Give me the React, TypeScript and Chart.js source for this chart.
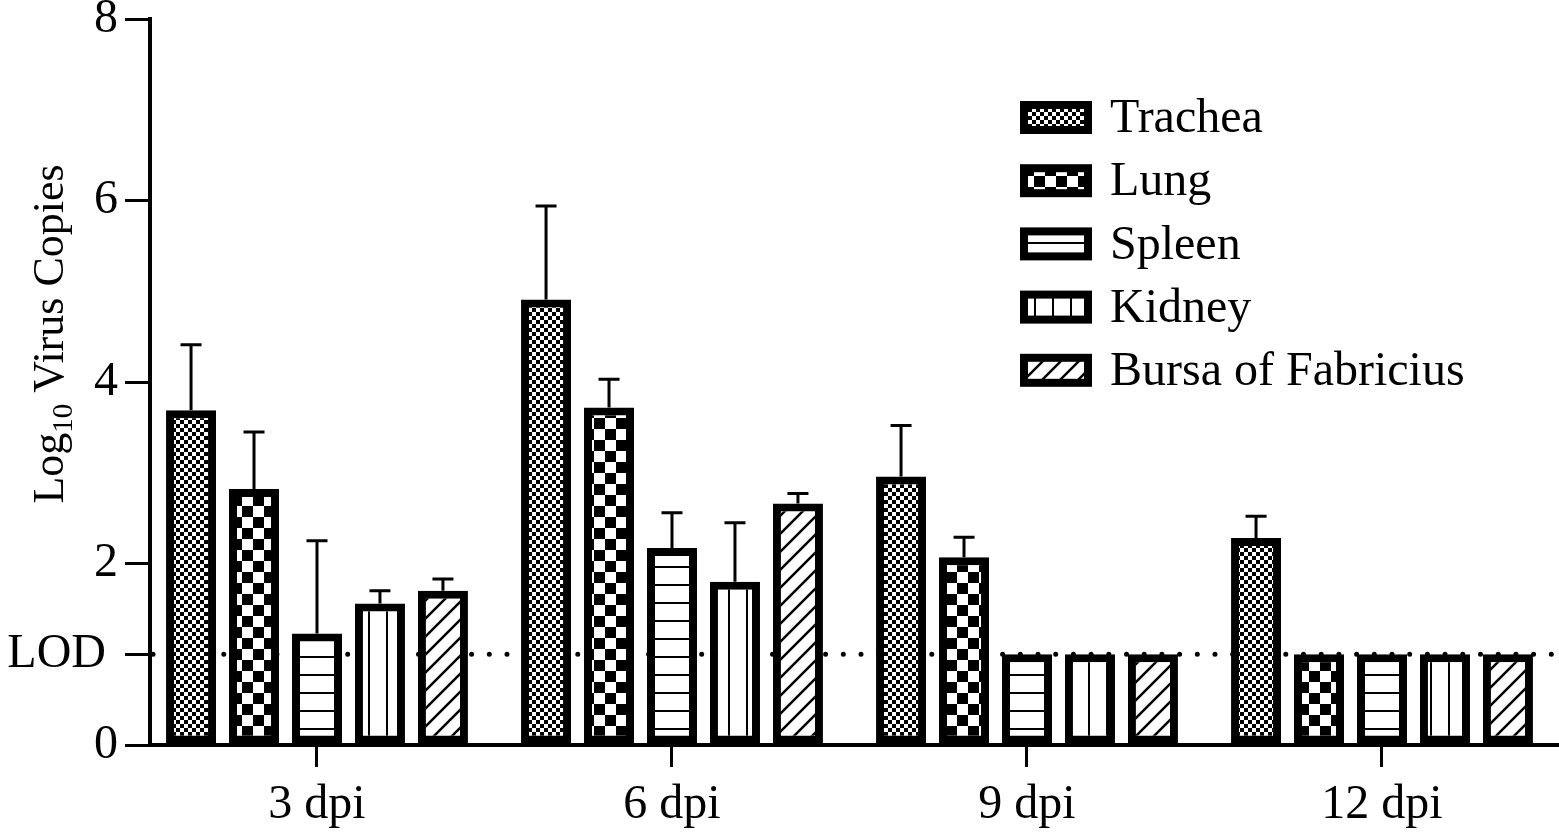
import React, { useEffect, useRef } from "react";
import { Chart, registerables } from "chart.js";

Chart.register(...registerables);

const FONT = '"Liberation Serif", "Times New Roman", serif';

// data (log10 copies, mean and upper error)
const days = ["3 dpi", "6 dpi", "9 dpi", "12 dpi"];
const tissues = ["Trachea", "Lung", "Spleen", "Kidney", "Bursa of Fabricius"];

const trachea = [3.69, 4.91, 2.96, 2.28];
const tracheaErr = [0.72, 1.03, 0.56, 0.24];
const lung = [2.82, 3.72, 2.07, 1];
const lungErr = [0.63, 0.31, 0.22, 0];
const spleen = [1.23, 2.17, 1, 1];
const spleenErr = [1.02, 0.39, 0, 0];
const kidney = [1.56, 1.8, 1, 1];
const kidneyErr = [0.14, 0.65, 0, 0];
const bursa = [1.7, 2.66, 1, 1];
const bursaErr = [0.13, 0.11, 0, 0];

const yTicks = [0, 1, 2, 4, 6, 8];
const lod = 1;

const means = [trachea, lung, spleen, kidney, bursa];
const errors = [tracheaErr, lungErr, spleenErr, kidneyErr, bursaErr];
const patternKinds = ["fineCheck", "check", "hlines", "vlines", "diag"];

function makePattern(ctx: CanvasRenderingContext2D, kind: string) {
  const c = document.createElement("canvas");
  const g = c.getContext("2d")!;
  let s = 18;
  if (kind === "fineCheck") s = 8;
  if (kind === "check") s = 22;
  c.width = s;
  c.height = s;
  g.fillStyle = "#fff";
  g.fillRect(0, 0, s, s);
  g.fillStyle = "#000";
  g.strokeStyle = "#000";
  if (kind === "fineCheck" || kind === "check") {
    const h = s / 2;
    g.fillRect(0, 0, h, h);
    g.fillRect(h, h, h, h);
  } else if (kind === "hlines") {
    g.fillRect(0, 8, s, 2);
  } else if (kind === "vlines") {
    g.fillRect(8, 0, 2, s);
  } else if (kind === "diag") {
    g.lineWidth = 2.5;
    g.beginPath();
    g.moveTo(-2, s + 2);
    g.lineTo(s + 2, -2);
    g.moveTo(-2, 2);
    g.lineTo(2, -2);
    g.moveTo(s - 2, s + 2);
    g.lineTo(s + 2, s - 2);
    g.stroke();
  }
  return ctx.createPattern(c, "repeat");
}

// dotted limit-of-detection line, behind the bars
const lodLine = {
  id: "lodLine",
  beforeDatasetsDraw(chart) {
    const { ctx, chartArea } = chart;
    const y = chart.scales.y.getPixelForValue(lod);
    ctx.save();
    ctx.strokeStyle = "#000";
    ctx.lineWidth = 5;
    ctx.lineCap = "round";
    ctx.setLineDash([0, 17.7]);
    ctx.beginPath();
    ctx.moveTo(chartArea.left + 3, y);
    ctx.lineTo(chartArea.right, y);
    ctx.stroke();
    ctx.restore();
  },
};

// upper error bars only
const errorBars = {
  id: "errorBars",
  afterDatasetsDraw(chart) {
    const { ctx } = chart;
    const yScale = chart.scales.y;
    ctx.save();
    ctx.strokeStyle = "#000";
    ctx.lineWidth = 3;
    chart.data.datasets.forEach((ds, i) => {
      chart.getDatasetMeta(i).data.forEach((bar, j) => {
        const e = errors[i][j];
        if (!e) return;
        const top = yScale.getPixelForValue(ds.data[j] + e);
        ctx.beginPath();
        ctx.moveTo(bar.x, bar.y);
        ctx.lineTo(bar.x, top);
        ctx.moveTo(bar.x - 10.5, top);
        ctx.lineTo(bar.x + 10.5, top);
        ctx.stroke();
      });
    });
    ctx.restore();
  },
};

// legend boxes with the fill patterns, plus the rotated y title with subscript
const decorations = {
  id: "decorations",
  afterDraw(chart) {
    const { ctx } = chart;
    ctx.save();
    chart.data.datasets.forEach((ds, i) => {
      const cy = 117.5 + i * 63.2;
      const bx = 1020;
      const by = cy - 16.5;
      ctx.fillStyle = "#000";
      ctx.fillRect(bx, by, 72, 33);
      ctx.fillStyle = ds.backgroundColor;
      ctx.fillRect(bx + 8, by + 8, 56, 17);
      ctx.fillStyle = "#000";
      ctx.font = `48px ${FONT}`;
      ctx.textAlign = "left";
      ctx.textBaseline = "middle";
      ctx.fillText(ds.label, 1110, cy + 2);
    });

    ctx.translate(63, 334);
    ctx.rotate(-Math.PI / 2);
    ctx.textBaseline = "alphabetic";
    ctx.textAlign = "left";
    const big = `44px ${FONT}`;
    const small = `29px ${FONT}`;
    ctx.font = big;
    const w1 = ctx.measureText("Log").width;
    const w3 = ctx.measureText(" Virus Copies").width;
    ctx.font = small;
    const w2 = ctx.measureText("10").width;
    let x = -(w1 + w2 + w3) / 2;
    ctx.fillStyle = "#000";
    ctx.font = big;
    ctx.fillText("Log", x, 0);
    x += w1;
    ctx.font = small;
    ctx.fillText("10", x, 9);
    x += w2;
    ctx.font = big;
    ctx.fillText(" Virus Copies", x, 0);
    ctx.restore();
  },
};

// first/last group centres sit at 317 and 1382 px, slightly left of a symmetric category layout
const X_START = -0.4704;
const X_RANGE = 3.969;

export default function App() {
  const canvasRef = useRef<HTMLCanvasElement | null>(null);
  const chartRef = useRef<Chart | null>(null);

  useEffect(() => {
    const ctx = canvasRef.current!.getContext("2d")!;
    if (chartRef.current) chartRef.current.destroy();

    chartRef.current = new Chart(ctx, {
      type: "bar",
      data: {
        labels: days,
        datasets: tissues.map((t, i) => ({
          label: t,
          data: means[i],
          backgroundColor: makePattern(ctx, patternKinds[i]),
          borderColor: "#000",
          borderWidth: 8,
          borderSkipped: false,
          barPercentage: 0.794,
          categoryPercentage: 0.887,
        })),
      },
      options: {
        responsive: false,
        animation: false,
        devicePixelRatio: 1,
        layout: { padding: { top: 19, right: 0, left: 0, bottom: 0 } },
        plugins: {
          legend: { display: false },
          tooltip: { enabled: false },
        },
        scales: {
          x: {
            afterBuildTicks: (s) => {
              s._startValue = X_START;
              s._valueRange = X_RANGE;
            },
            afterFit: (s) => {
              s.height = 88;
              s.paddingLeft = 0;
              s.paddingRight = 0;
            },
            border: { display: true, color: "#000", width: 4 },
            grid: {
              offset: false,
              drawOnChartArea: false,
              drawTicks: true,
              tickLength: 22,
              color: "#000",
              lineWidth: 3,
            },
            ticks: {
              color: "#000",
              font: { family: FONT, size: 48 },
              padding: 10,
              maxRotation: 0,
            },
          },
          y: {
            min: 0,
            max: 8,
            afterBuildTicks: (s) => {
              s.ticks = yTicks.map((v) => ({ value: v }));
            },
            afterFit: (s) => {
              s.width = 150;
              s.paddingTop = 0;
              s.paddingBottom = 0;
            },
            border: { display: true, color: "#000", width: 4 },
            grid: {
              drawOnChartArea: false,
              drawTicks: true,
              tickLength: 25,
              color: "#000",
              lineWidth: 3,
            },
            ticks: {
              color: "#000",
              font: { family: FONT, size: 48 },
              padding: 7,
              callback: (v) => (v === lod ? "LOD " : String(v)),
            },
          },
        },
      },
      plugins: [lodLine, errorBars, decorations],
    });

    return () => {
      if (chartRef.current) {
        chartRef.current.destroy();
        chartRef.current = null;
      }
    };
  }, []);

  return (
    <div style={{ position: "fixed", left: 0, top: 0, width: 1559, height: 833, background: "#fff" }}>
      <canvas ref={canvasRef} width={1559} height={833} />
    </div>
  );
}
